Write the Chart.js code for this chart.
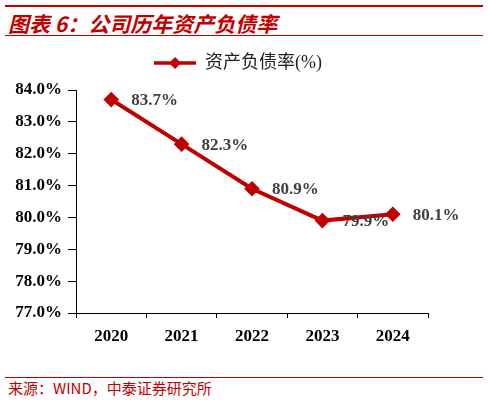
<!DOCTYPE html>
<html>
<head>
<meta charset="utf-8">
<script src="https://cdn.jsdelivr.net/npm/chart.js@4.4.1/dist/chart.umd.min.js"></script>
<style>
  body { margin: 0; width: 488px; height: 400px; background: #fff; position: relative; overflow: hidden; }
  .rule { position: absolute; left: 5px; width: 478px; background: #c00000; }
  #title { position: absolute; left: 8px; top: 10px; font: italic bold 21px "Noto Sans CJK SC"; color: #c00000; line-height: 26px; white-space: nowrap; }
  #source { position: absolute; left: 8px; top: 380px; font: 15px "Noto Sans CJK SC"; color: #c00000; line-height: 16px; white-space: nowrap; }
  #wrap { position: absolute; left: 0; top: 44px; width: 488px; height: 330px; }
</style>
</head>
<body>
<div class="rule" style="top:5px;height:2px"></div>
<div id="title">图表 6：公司历年资产负债率</div>
<div class="rule" style="top:35px;height:1px"></div>
<div id="wrap"><canvas id="debtChart"></canvas></div>
<div class="rule" style="top:377px;height:1px"></div>
<div id="source">来源：WIND，中泰证券研究所</div>
<script>
var years = ['2020', '2021', '2022', '2023', '2024'];
var debtRatio = [83.7, 82.3, 80.9, 79.9, 80.1];
var yTicks = [77, 78, 79, 80, 81, 82, 83, 84];

var red = '#c00000';
var serif = '"Liberation Serif", "Times New Roman", serif';

// legend marker: line with a diamond in the middle
var legendMark = document.createElement('canvas');
legendMark.width = 42;
legendMark.height = 14;
var lc = legendMark.getContext('2d');
lc.strokeStyle = red;
lc.lineWidth = 3.5;
lc.beginPath(); lc.moveTo(0, 7); lc.lineTo(42, 7); lc.stroke();
lc.fillStyle = red;
lc.beginPath(); lc.moveTo(21, 1); lc.lineTo(27, 7); lc.lineTo(21, 13); lc.lineTo(15, 7); lc.closePath(); lc.fill();

// fixed legend height so the plot starts where the original does,
// and nudge it right a bit like in the original
var legendHeight = {
  id: 'legendHeight',
  beforeLayout: function(chart) {
    if (chart.legend && !chart.legend._patched) {
      var fit = chart.legend.fit;
      chart.legend.fit = function() { fit.call(this); this.height = 46; };
      chart.legend._patched = true;
    }
  },
  afterLayout: function(chart) {
    if (chart.legend) chart.legend.left += 48;
  }
};

var pointLabels = {
  id: 'pointLabels',
  afterDatasetsDraw: function(chart) {
    var ctx = chart.ctx;
    var meta = chart.getDatasetMeta(0);
    ctx.save();
    ctx.font = 'bold 17px ' + serif;
    ctx.fillStyle = '#404040';
    ctx.textAlign = 'left';
    ctx.textBaseline = 'middle';
    meta.data.forEach(function(pt, i) {
      ctx.fillText(debtRatio[i].toFixed(1) + '%', pt.x + 20, pt.y + 1);
    });
    ctx.restore();
  }
};

new Chart(document.getElementById('debtChart'), {
  type: 'line',
  data: {
    labels: years,
    datasets: [{
      label: '资产负债率(%)',
      data: debtRatio,
      borderColor: red,
      backgroundColor: red,
      borderWidth: 4,
      pointStyle: 'rectRot',
      pointRadius: 5,
      pointBackgroundColor: red,
      pointBorderColor: red,
      tension: 0
    }]
  },
  options: {
    responsive: true,
    maintainAspectRatio: false,
    animation: false,
    layout: { padding: { left: 0, right: 60, top: 0, bottom: 0 } },
    plugins: {
      tooltip: { enabled: false },
      legend: {
        position: 'top',
        labels: {
          usePointStyle: true,
          pointStyle: legendMark,
          pointStyleWidth: 42,
          padding: 10,
          color: '#222',
          font: { family: serif + ', "Noto Sans CJK SC"', size: 18 }
        }
      }
    },
    scales: {
      x: {
        offset: true,
        grid: { offset: true, drawOnChartArea: false, drawTicks: true, tickLength: 5, color: '#000' },
        border: { color: '#000', width: 1 },
        ticks: { color: '#000', padding: 8, font: { family: serif, size: 17, weight: 'bold' } },
        afterFit: function(s) { s.height = 61; }
      },
      y: {
        min: yTicks[0],
        max: yTicks[yTicks.length - 1],
        ticks: {
          stepSize: 1,
          color: '#000',
          padding: 6,
          font: { family: serif, size: 17, weight: 'bold' },
          callback: function(v) { return v.toFixed(1) + '%'; }
        },
        grid: { drawOnChartArea: false, drawTicks: true, tickLength: 8, color: '#000' },
        border: { color: '#000', width: 1 },
        afterFit: function(s) { s.width = 76; }
      }
    }
  },
  plugins: [legendHeight, pointLabels]
});
</script>
</body>
</html>
